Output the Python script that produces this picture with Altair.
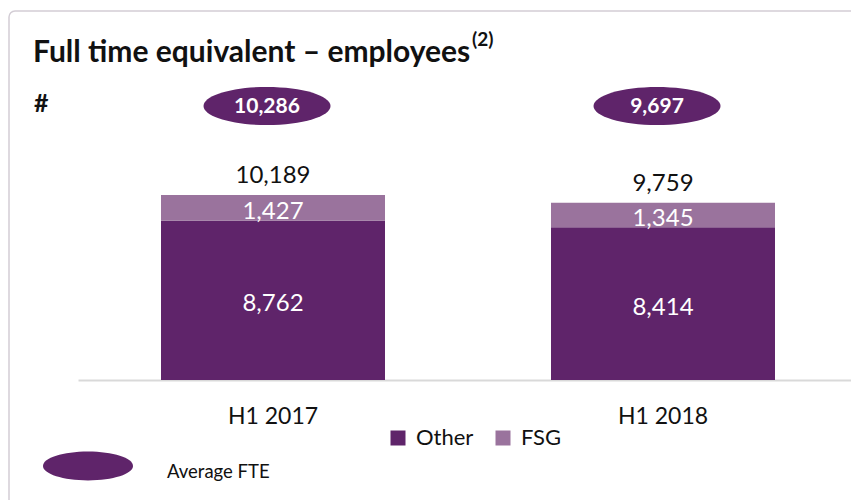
import altair as alt
import pandas as pd

periods = ["H1 2017", "H1 2018"]
other = [8762, 8414]
fsg = [1427, 1345]
totals = [10189, 9759]
avg_fte = [10286, 9697]
series = ["Other", "FSG"]
colors = ["#5F246A", "#9A739D"]

DARK = colors[0]
FONT = "Lato"

rows = []
for i, p in enumerate(periods):
    rows.append({"period": p, "series": "Other", "value": other[i], "order": 0,
                 "mid": other[i] / 2, "label": f"{other[i]:,}"})
    rows.append({"period": p, "series": "FSG", "value": fsg[i], "order": 1,
                 "mid": other[i] + fsg[i] / 2, "label": f"{fsg[i]:,}"})
long_df = pd.DataFrame(rows)

tot_df = pd.DataFrame({"period": periods, "total": totals,
                       "label": [f"{t:,}" for t in totals]})
avg_df = pd.DataFrame({"period": periods, "avg": avg_fte,
                       "label": [f"{a:,}" for a in avg_fte]})

W, H = 774, 293
YMAX = 16130

xs = alt.X("period:N", sort=periods,
           scale=alt.Scale(range=[1, 781], paddingInner=0, paddingOuter=0),
           axis=alt.Axis(title=None, labelAngle=0, ticks=False, tickSize=0,
                         labelPadding=25, labelFont=FONT, labelFontSize=23,
                         labelColor="#111111", domainColor="#D9D9D9",
                         domainWidth=2, grid=False))
ys = alt.Y("value:Q", stack="zero",
           scale=alt.Scale(domain=[0, YMAX], nice=False), axis=None)

one = alt.Data(values=[{"a": 1}])

border = alt.Chart(one).mark_rect(
    fill="transparent", stroke="#D3CDD5", strokeWidth=1.5, cornerRadius=6
).encode(x=alt.value(-68), x2=alt.value(820), y=alt.value(-76), y2=alt.value(440))

bars = alt.Chart(long_df).mark_bar(size=224).encode(
    x=xs,
    y=ys,
    color=alt.Color("series:N", scale=alt.Scale(domain=series, range=colors),
                    legend=alt.Legend(title=None, orient="none", direction="horizontal",
                                      legendX=310, legendY=340, symbolType="square",
                                      symbolSize=225, symbolStrokeWidth=0,
                                      labelFont=FONT, labelFontSize=22,
                                      labelColor="#111111", labelOffset=7,
                                      columnPadding=18)),
    order=alt.Order("order:Q"),
)

seg_text = alt.Chart(long_df).mark_text(
    font=FONT, fontSize=24, color="white", baseline="middle", dy=4
).encode(
    x=alt.X("period:N", sort=periods),
    y=alt.Y("mid:Q"),
    text="label:N",
)

tot_text = alt.Chart(tot_df).mark_text(
    font=FONT, fontSize=24, color="#111111", baseline="alphabetic", dy=-12
).encode(
    x=alt.X("period:N", sort=periods),
    y=alt.Y("total:Q"),
    text="label:N",
)

# ellipse path, shifted ~6px left of the band centre (127px wide symbol)
ELLIPSE = "M-1.094,0 A1,0.3 0 1,0 0.906,0 A1,0.3 0 1,0 -1.094,0 Z"

ellipses = alt.Chart(avg_df).mark_point(
    shape=ELLIPSE, filled=True, fill=DARK, opacity=1, strokeWidth=0, size=127 ** 2
).encode(
    x=alt.X("period:N", sort=periods),
    y=alt.value(19),
)

ell_text = alt.Chart(avg_df).mark_text(
    font=FONT, fontSize=21, fontWeight="bold", color="white", baseline="middle", dx=-6
).encode(
    x=alt.X("period:N", sort=periods),
    y=alt.value(20),
    text="label:N",
)

title = alt.Chart(one).mark_text(
    text="Full time equivalent – employees", font=FONT, fontSize=30,
    fontWeight="bold", color="#111111", align="left", baseline="alphabetic"
).encode(x=alt.value(-44), y=alt.value(-25))

sup = alt.Chart(one).mark_text(
    text="(2)", font=FONT, fontSize=19, fontWeight="bold", color="#111111",
    align="left", baseline="alphabetic"
).encode(x=alt.value(395), y=alt.value(-41))

hash_t = alt.Chart(one).mark_text(
    text="#", font=FONT, fontSize=25, fontWeight="bold", color="#111111",
    align="left", baseline="alphabetic"
).encode(x=alt.value(-43), y=alt.value(25))

leg_ell = alt.Chart(one).mark_point(
    shape="M-1,0 A1,0.32 0 1,0 1,0 A1,0.32 0 1,0 -1,0 Z", filled=True, fill=DARK,
    opacity=1, strokeWidth=0, size=90 ** 2
).encode(x=alt.value(11), y=alt.value(379))

leg_text = alt.Chart(one).mark_text(
    text="Average FTE", font=FONT, fontSize=18.5, color="#111111",
    align="left", baseline="alphabetic"
).encode(x=alt.value(90), y=alt.value(391))

chart = alt.layer(
    border, bars, seg_text, tot_text, ellipses, ell_text,
    title, sup, hash_t, leg_ell, leg_text
).properties(
    width=W, height=H,
    autosize=alt.AutoSizeParams(type="none"),
    padding={"left": 69, "top": 79, "right": 0, "bottom": 120},
    background="white",
).configure_view(strokeWidth=0)

chart.save("out.html", embed_options={"renderer": "svg", "actions": False})
